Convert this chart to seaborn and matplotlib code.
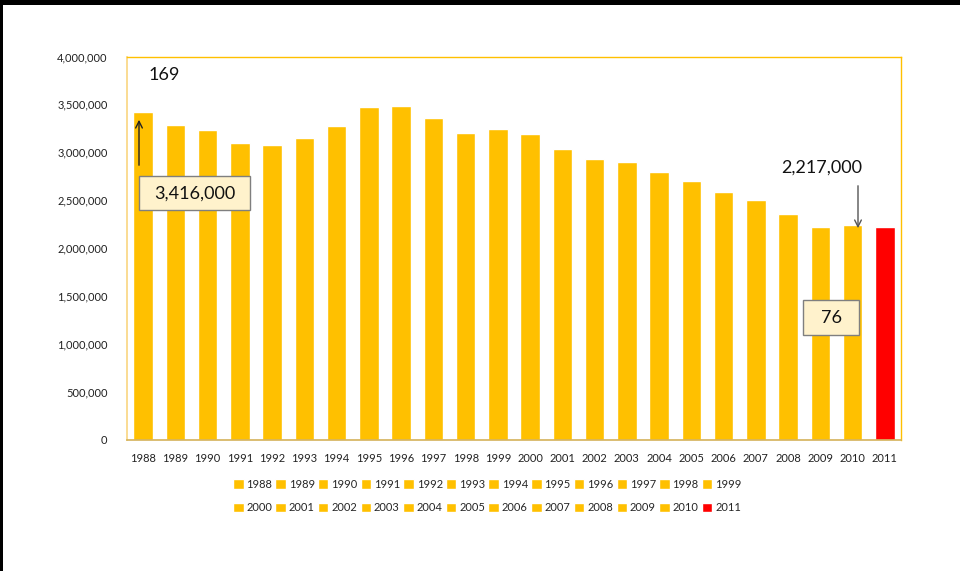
import matplotlib
matplotlib.use("Agg")
import matplotlib.pyplot as plt
import matplotlib.ticker as mticker
from matplotlib.patches import Rectangle
import seaborn as sns
import pandas as pd

years = [str(y) for y in range(1988, 2012)]
values = [3416000, 3285000, 3236000, 3100000, 3076000, 3152000, 3271000, 3469000,
          3486000, 3355000, 3198000, 3243000, 3194000, 3034000, 2930000, 2895000,
          2794000, 2703000, 2582000, 2498000, 2352000, 2219000, 2240000, 2217000]
bar_colors = ["#FFC000"] * 23 + ["#FF0000"]

df = pd.DataFrame({"year": years, "value": values})
palette = dict(zip(years, bar_colors))

sns.set_theme(style="white")
plt.rcParams["font.family"] = ["Lato", "DejaVu Sans"]

W, H = 960, 571
fig = plt.figure(figsize=(W / 100, H / 100), dpi=100)
ax = fig.add_axes([127 / W, 1 - 439.5 / H, (901 - 127) / W, (439.5 - 56.5) / H])

sns.barplot(data=df, x="year", y="value", hue="year", palette=palette,
            dodge=False, width=0.6, ax=ax, legend=True, saturation=1)

ax.set_ylim(0, 4000000)
ax.set_xlim(-0.5, len(years) - 0.5)
ax.set_yticks(range(0, 4000001, 500000))
ax.yaxis.set_major_formatter(mticker.FuncFormatter(lambda v, p: f"{int(v):,}"))
ax.tick_params(axis="both", length=0, labelsize=8, colors="#222222")
ax.tick_params(axis="y", pad=14)
ax.tick_params(axis="x", pad=10)
ax.set_xlabel("")
ax.set_ylabel("")
for side in ["top", "right"]:
    ax.spines[side].set_color("#FFC000")
    ax.spines[side].set_linewidth(1)
ax.spines["left"].set_color("#F9D680")
ax.spines["bottom"].set_color("#D4B25A")
ax.spines["left"].set_linewidth(1.2)
ax.spines["bottom"].set_linewidth(1.2)

# legend: reorder so it reads row by row (matplotlib fills columns first)
handles, labels = ax.get_legend_handles_labels()
ax.get_legend().remove()
ncol = 12
order = []
for j in range(ncol):
    for r in range(2):
        k = r * ncol + j
        if k < len(handles):
            order.append(k)
ax.legend([handles[k] for k in order], [labels[k] for k in order],
          loc="upper left", bbox_to_anchor=(233 / 960, 1 - 479 / 571),
          bbox_transform=fig.transFigure, ncol=ncol, frameon=False,
          fontsize=8, handlelength=0.95, handleheight=0.95,
          handletextpad=0.25, columnspacing=0.28, labelspacing=1.1,
          borderpad=0, borderaxespad=0)

tf = fig.transFigure
def fx(px):
    return px / W
def fy(py):
    return 1 - py / H

# annotations
fig.text(fx(164), fy(75), "169", ha="center", va="center", fontsize=13, color="#111111")
fig.patches.append(Rectangle((fx(139), fy(210)), (250 - 139) / W, (210 - 176) / H,
                             transform=tf, facecolor="#FFF2CC", edgecolor="#7F7F7F",
                             linewidth=1, zorder=5))
fig.text(fx(194.5), fy(194), "3,416,000", ha="center", va="center", fontsize=13,
         color="#111111", zorder=6)
ax.annotate("", xy=(fx(139), fy(117)), xytext=(fx(139), fy(168)),
            xycoords=tf, textcoords=tf,
            arrowprops=dict(arrowstyle="->", color="#222222", lw=1))

fig.text(fx(822), fy(168), "2,217,000", ha="center", va="center", fontsize=13,
         color="#111111")
ax.annotate("", xy=(fx(858), fy(231)), xytext=(fx(858), fy(183)),
            xycoords=tf, textcoords=tf,
            arrowprops=dict(arrowstyle="->", color="#555555", lw=1))

fig.patches.append(Rectangle((fx(803), fy(335)), (859 - 803) / W, (335 - 300) / H,
                             transform=tf, facecolor="#FFF2CC", edgecolor="#7F7F7F",
                             linewidth=1, zorder=5))
fig.text(fx(831), fy(318), "76", ha="center", va="center", fontsize=13,
         color="#111111", zorder=6)

# black frame edges of the slide
fig.patches.append(Rectangle((0, fy(5)), 1, 5 / H, transform=tf,
                             facecolor="black", edgecolor="none", zorder=10))
fig.patches.append(Rectangle((0, 0), 3 / W, 1, transform=tf,
                             facecolor="black", edgecolor="none", zorder=10))

fig.savefig("out.png", dpi=100, facecolor="white")
